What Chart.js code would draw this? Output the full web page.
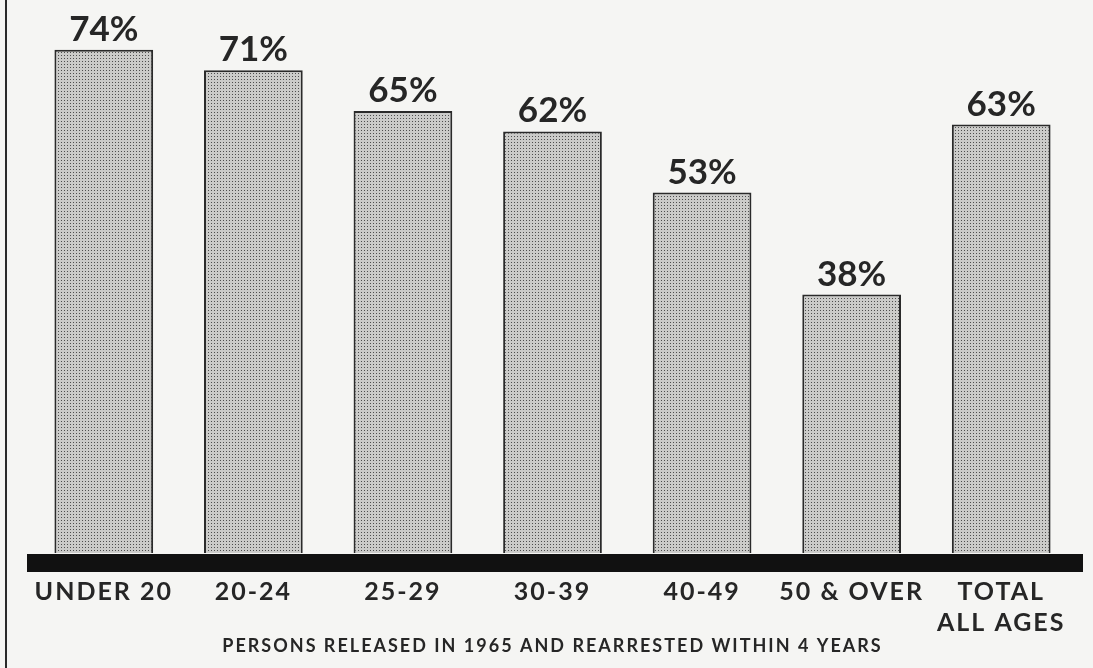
<!DOCTYPE html>
<html>
<head>
<meta charset="utf-8">
<script src="https://cdn.jsdelivr.net/npm/chart.js@4"></script>
<style>
  body { margin: 0; background: #f5f5f3; }
  #wrap { width: 1093px; height: 668px; }
</style>
</head>
<body>
<div id="wrap"><canvas id="rearrestChart" width="1093" height="668"></canvas></div>
<script>
var ageGroups = ['UNDER 20', '20-24', '25-29', '30-39', '40-49', '50 & OVER', ['TOTAL', 'ALL AGES']];
var rearrestPct = [74, 71, 65, 62, 53, 38, 63];
var axisTitle = 'PERSONS RELEASED IN 1965 AND REARRESTED WITHIN 4 YEARS';

makeStipple = function () {
    var c = document.createElement('canvas');
    c.width = 3;
    c.height = 3;
    var g = c.getContext('2d');
    g.fillStyle = '#cbcbc9';
    g.fillRect(0, 0, 3, 3);
    g.fillStyle = '#4e4e4e';
    g.fillRect(1, 1, 1, 1);
    return g.createPattern(c, 'repeat');
}

// frame line, letter spacing and the thick black base
var paperPlugin = {
    id: 'paper',
    beforeDraw: function (chart) {
        var ctx = chart.ctx;
        ctx.save();
        ctx.fillStyle = '#f5f5f3';
        ctx.fillRect(0, 0, chart.width, chart.height);
        ctx.fillStyle = '#2a2a2a';
        ctx.fillRect(5, 0, 2, chart.height);
        ctx.restore();
        ctx.letterSpacing = '2px';
    },
    afterDatasetsDraw: function (chart) {
        var ctx = chart.ctx;
        var x = chart.scales.x;
        var y = chart.scales.y;
        var base = y.getPixelForValue(0);
        ctx.save();
        ctx.fillStyle = '#111';
        ctx.fillRect(x.left - 2, base + 1, x.right - x.left + 9, 18);

        // value labels above bars
        var meta = chart.getDatasetMeta(0);
        ctx.fillStyle = '#262626';
        ctx.font = 'bold 35px Lato';
        ctx.letterSpacing = '0px';
        ctx.textAlign = 'center';
        ctx.textBaseline = 'alphabetic';
        for (var i = 0; i < meta.data.length; i++) {
            var bar = meta.data[i];
            ctx.fillText(rearrestPct[i] + '%', bar.x, bar.y - 9);
        }
        ctx.restore();
    }
};

var ctx = document.getElementById('rearrestChart');
var rearrestChart = new Chart(ctx, {
    type: 'bar',
    data: {
        labels: ageGroups,
        datasets: [{
            data: rearrestPct,
            backgroundColor: makeStipple(),
            borderColor: '#2a2a2a',
            borderWidth: 2,
            barPercentage: 0.66,
            categoryPercentage: 1
        }]
    },
    options: {
        responsive: false,
        animation: false,
        layout: { padding: { left: 29, right: 17, top: 9, bottom: 0 } },
        plugins: {
            legend: { display: false },
            tooltip: { enabled: false }
        },
        scales: {
            y: {
                display: false,
                min: 0,
                max: 80
            },
            x: {
                grid: { display: false, drawTicks: false },
                border: { display: false },
                afterFit: function (scale) { scale.height = 115; },
                ticks: {
                    color: '#262626',
                    padding: 23,
                    maxRotation: 0,
                    autoSkip: false,
                    font: { family: 'Lato', weight: 'bold', size: 25, lineHeight: 1.24 }
                },
                title: {
                    display: true,
                    text: axisTitle,
                    color: '#262626',
                    padding: { top: 0, bottom: 11 },
                    font: { family: 'Lato', weight: 'bold', size: 18, lineHeight: 1.2 }
                }
            }
        }
    },
    plugins: [paperPlugin]
});
</script>
</body>
</html>
